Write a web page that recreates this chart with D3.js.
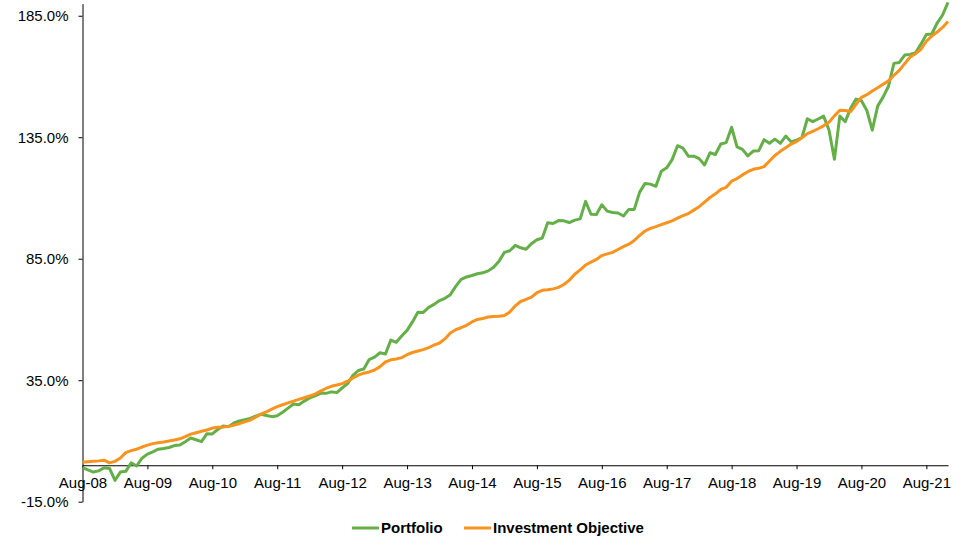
<!DOCTYPE html>
<html>
<head>
<meta charset="utf-8">
<script src="https://cdnjs.cloudflare.com/ajax/libs/d3/7.8.5/d3.min.js"></script>
<style>
  html, body { margin: 0; padding: 0; background: #fff; }
  svg { display: block; font-family: "Liberation Sans", Arial, sans-serif; }
  .axis path, .axis line { stroke: #000; }
  .axis text { font-size: 15px; fill: #000; }
  .legend text { font-size: 15px; font-weight: bold; fill: #000; }
</style>
</head>
<body>
<div id="chart"></div>
<script>

  /* -----------------------
      DATA (monthly, Aug-08 .. Dec-21)
   -------------------------- */

  //-- PORTFOLIO CUMULATIVE RETURN (%)
  var portfolio = [
    -1.0, -1.9, -2.8, -2.3, -1.0, -1.3, -6.2, -2.8, -2.5, 1.0, -0.3, 2.9,
    4.6, 5.5, 6.6, 6.9, 7.3, 8.1, 8.3, 9.7, 11.2, 10.5, 9.7, 13.0,
    12.9, 14.7, 16.2, 15.9, 17.4, 18.2, 18.7, 19.3, 20.2, 21.0, 20.5, 20.0,
    20.4, 21.8, 23.5, 25.2, 24.9, 26.4, 27.7, 28.6, 29.6, 29.6, 30.2, 29.9,
    31.8, 33.6, 37.0, 39.0, 39.6, 43.5, 44.5, 46.3, 45.8, 51.5, 50.6, 53.2,
    55.5, 59.0, 63.0, 62.9, 65.0, 66.2, 67.8, 68.7, 70.2, 73.6, 76.5, 77.5,
    78.1, 78.8, 79.2, 80.0, 81.5, 84.0, 87.6, 88.3, 90.5, 89.5, 88.9, 91.2,
    92.8, 93.5, 99.8, 99.5, 100.7, 100.6, 99.9, 100.9, 101.4, 108.6, 103.3, 103.2,
    107.2, 104.6, 104.0, 103.8, 102.6, 105.3, 105.3, 112.4, 116.0, 115.7, 114.8, 121.0,
    122.4, 125.8, 131.5, 130.5, 127.2, 127.2, 126.2, 123.6, 128.6, 127.9, 132.2, 132.8,
    139.1, 131.0, 130.0, 127.3, 129.3, 129.4, 134.0, 132.5, 134.2, 132.5, 135.5, 133.1,
    133.8, 134.9, 142.6, 141.4, 142.5, 143.7, 138.0, 125.9, 143.7, 141.4, 146.9, 150.7,
    150.0, 146.0, 137.9, 147.8, 151.5, 156.0, 165.4, 165.8, 168.8, 169.1, 169.8, 173.3,
    177.3, 177.5, 182.0, 185.3, 190.5
  ];

  //-- INVESTMENT OBJECTIVE CUMULATIVE RETURN (%)
  var objective = [
    1.2, 1.4, 1.6, 1.8, 2.1, 1.0, 1.6, 3.0, 5.2, 6.0, 6.6, 7.5,
    8.3, 8.9, 9.3, 9.6, 10.0, 10.4, 10.9, 11.8, 12.8, 13.4, 14.0, 14.5,
    15.3, 15.6, 15.7, 16.0, 16.5, 17.1, 17.9, 18.6, 19.8, 21.0, 22.0, 23.1,
    24.1, 24.9, 25.7, 26.4, 27.1, 27.8, 28.5, 29.3, 30.5, 31.6, 32.5, 33.0,
    33.6, 34.6, 35.9, 37.1, 37.9, 38.4, 39.2, 40.6, 42.5, 43.4, 43.7, 44.3,
    45.5, 46.4, 47.0, 47.6, 48.4, 49.5, 50.3, 52.0, 54.4, 55.8, 56.6, 57.6,
    59.0, 60.0, 60.4, 61.0, 61.2, 61.3, 61.6, 63.1, 65.6, 67.4, 68.3, 69.2,
    71.0, 72.0, 72.2, 72.6, 73.2, 74.4, 76.2, 78.6, 80.4, 82.4, 83.6, 84.7,
    86.3, 87.0, 87.6, 88.8, 90.0, 91.0, 92.5, 94.6, 96.4, 97.5, 98.2, 99.0,
    99.8, 100.6, 101.7, 102.7, 103.6, 105.0, 106.4, 108.3, 110.2, 111.7, 113.5, 114.4,
    116.9, 118.0, 119.5, 120.8, 121.8, 122.2, 122.9, 125.2, 127.5, 129.2, 130.7, 132.2,
    133.2, 134.8, 136.5, 137.4, 138.5, 139.7, 141.2, 143.8, 146.1, 146.0, 145.5, 148.5,
    151.4, 152.5, 154.0, 155.4, 156.8, 158.2, 160.5, 162.5, 165.3, 168.0, 169.4, 171.2,
    174.5, 176.6, 178.3, 180.2, 182.6
  ];

  //-- X TICK LABELS (every August)
  var xTickLabels = ['Aug-08', 'Aug-09', 'Aug-10', 'Aug-11', 'Aug-12', 'Aug-13', 'Aug-14',
    'Aug-15', 'Aug-16', 'Aug-17', 'Aug-18', 'Aug-19', 'Aug-20', 'Aug-21'];

  //-- Y TICKS (%)
  var yTicks = [-15, 35, 85, 135, 185];

  //-- SERIES
  var seriesNames = ['Portfolio', 'Investment Objective'];
  var seriesColors = ['#64AF48', '#F7931E'];

  /* -----------------------
      LAYOUT
   -------------------------- */
  var svgWidth = 965,
    svgHeight = 543;

  var svg = d3.select('#chart').append('svg')
    .attr('width', svgWidth)
    .attr('height', svgHeight);

  //-- SCALES
  var scaleX = d3.scaleLinear()
    .domain([0, portfolio.length - 1])
    .range([82.5, 948]);

  var scaleY = d3.scaleLinear()
    .domain([-15, 190])
    .range([501.7, 3.6]);

  /* -----------------------
      AXES
   -------------------------- */

  //--- Y AXIS
  svg.append('g')
    .attr('class', 'axis')
    .attr('transform', 'translate(' + scaleX(0) + ',0)')
    .call(
      d3.axisLeft(scaleY)
      .tickValues(yTicks)
      .tickSizeInner(4)
      .tickSizeOuter(0)
      .tickPadding(10)
      .tickFormat(function(d) {
        return d.toFixed(1) + '%';
      })
    );

  //--- X AXIS (sits at 0%)
  svg.append('g')
    .attr('class', 'axis')
    .attr('transform', 'translate(0,' + scaleY(0) + ')')
    .call(
      d3.axisBottom(scaleX)
      .tickValues(xTickLabels.map(function(d, i) { return i * 12; }))
      .tickSizeInner(4)
      .tickSizeOuter(0)
      .tickPadding(8)
      .tickFormat(function(d, i) {
        return xTickLabels[i];
      })
    );

  /* -----------------------
      LINES
   -------------------------- */
  var lineFunc = d3.line()
    .x(function(d, i) { return scaleX(i); })
    .y(function(d) { return scaleY(d); });

  [portfolio, objective].forEach(function(values, k) {
    svg.append('path')
      .datum(values)
      .attr('fill', 'none')
      .attr('stroke', seriesColors[k])
      .attr('stroke-width', 3)
      .attr('stroke-linejoin', 'round')
      .attr('d', lineFunc);
  });

  /* -----------------------
      LEGEND
   -------------------------- */
  var legend = svg.append('g')
    .attr('class', 'legend');

  var legendX = [352, 464];

  seriesNames.forEach(function(name, k) {
    legend.append('line')
      .attr('x1', legendX[k])
      .attr('x2', legendX[k] + 27)
      .attr('y1', 528)
      .attr('y2', 528)
      .attr('stroke', seriesColors[k])
      .attr('stroke-width', 3);

    legend.append('text')
      .attr('x', legendX[k] + 29)
      .attr('y', 528)
      .attr('dy', '0.35em')
      .text(name);
  });

</script>
</body>
</html>
